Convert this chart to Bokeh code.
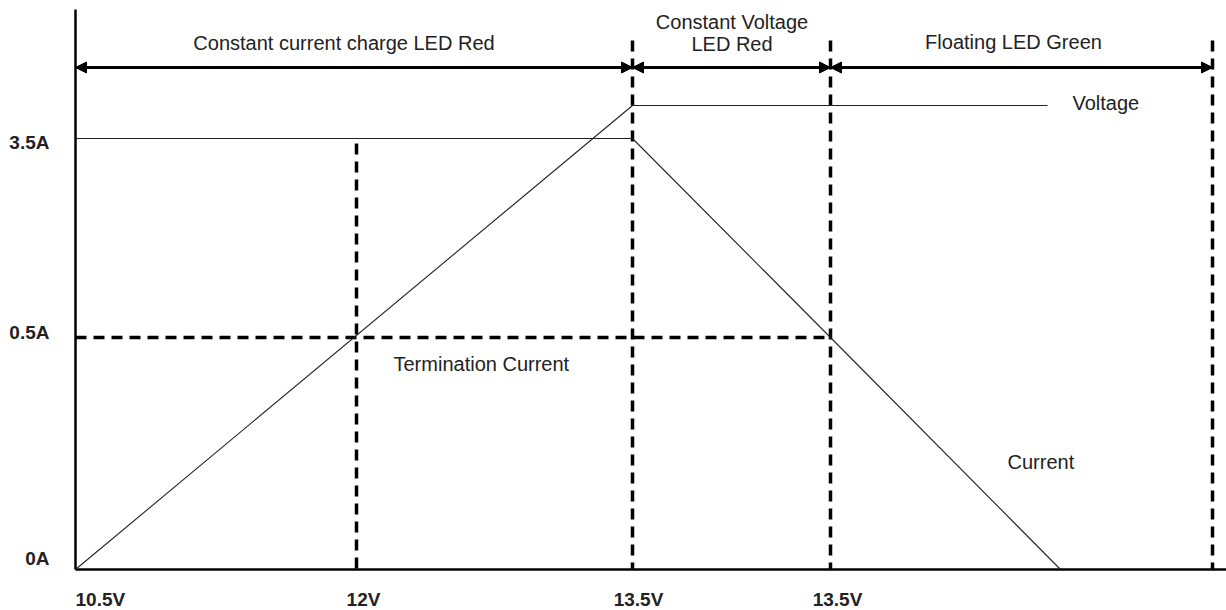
from bokeh.plotting import figure
from bokeh.models import Range1d, ColumnDataSource, Arrow, NormalHead
from bokeh.core.properties import value
from bokeh.embed import file_html
from bokeh.resources import INLINE

# ---- data (schematic units: x = position along charge cycle, y = level) ----
x_ticks = [0, 281, 557, 755]
x_tick_labels = ["10.5V", "12V", "13.5V", "13.5V"]
x_label_pos = [0, 288, 563, 762]
x_label_align = ["left", "center", "center", "center"]

y_ticks = [431, 232, 0]
y_tick_labels = ["3.5A", "0.5A", "0A"]
y_label_pos = [427, 237, 11]

stage_bounds = [0, 557, 755, 1137]
stage_names = ["Constant current charge LED Red", "Constant Voltage", "LED Red", "Floating LED Green"]
stage_name_x = [268.5, 656.5, 656.5, 938]
stage_name_y = [527, 548, 526, 528]

current_x = [0, 557, 755, 985]
current_y = [431, 431, 232, 0]

voltage_x = [0, 557, 972]
voltage_y = [0, 464, 464]

termination_level = 232
axis_top = 560
axis_right = 1151
arrow_level = 502
phase_line_x = [281, 557, 755, 1137]
phase_line_top = [426, 529, 529, 529]

note_texts = ["Voltage", "Termination Current", "Current"]
note_x = [997, 318, 932]
note_y = [467, 206, 108]

FONT = "Liberation Sans"
TXT = "#222222"

p = figure(width=1226, height=610, output_backend="svg", toolbar_location=None,
           x_range=Range1d(-75, 1151), y_range=Range1d(-41, 569),
           x_axis_location=None, y_axis_location=None, min_border=0,
           outline_line_color=None)
p.grid.visible = False

# axes lines
p.segment(x0=[0, 0], y0=[0, 0], x1=[0, axis_right], y1=[axis_top, 0],
          line_color="black", line_width=2.5)

# dashed phase lines
p.segment(x0=phase_line_x, y0=phase_line_top, x1=phase_line_x, y1=[0] * 4,
          line_color="black", line_width=3.5, line_dash="11 7")
# termination current dashed level
p.segment(x0=[0], y0=[termination_level], x1=[stage_bounds[2]], y1=[termination_level],
          line_color="black", line_width=3.5, line_dash="11 7")

# current and voltage curves
p.line(current_x, current_y, line_color="#222222", line_width=1.1)
p.line(voltage_x, voltage_y, line_color="#222222", line_width=1.1)

# stage arrows
arr_src = ColumnDataSource(dict(x0=stage_bounds[:-1], x1=stage_bounds[1:],
                                y=[arrow_level] * 3))
p.add_layout(Arrow(x_start="x0", y_start="y", x_end="x1", y_end="y", source=arr_src,
                   line_width=3, line_color="black",
                   start=NormalHead(size=11, fill_color="black", line_color="black", line_width=1),
                   end=NormalHead(size=11, fill_color="black", line_color="black", line_width=1)))

# stage texts
p.text(x=stage_name_x, y=stage_name_y, text=stage_names, text_font=value(FONT),
       text_font_size="20px", text_align="center", text_baseline="middle", text_color=TXT)

# annotations
p.text(x=note_x, y=note_y, text=note_texts, text_font=value(FONT),
       text_font_size="20px", text_align="left", text_baseline="middle", text_color=TXT)

# tick labels
p.text(x=[-26] * 3, y=y_label_pos, text=y_tick_labels, text_font=value(FONT),
       text_font_size="19px", text_font_style="bold", text_align="right",
       text_baseline="middle", text_color=TXT)
p.text(x=x_label_pos, y=[-30] * 4, text=x_tick_labels, text_font=value(FONT),
       text_font_size="19px", text_font_style="bold", text_align=x_label_align,
       text_baseline="middle", text_color=TXT)

open("out.html", "w").write(file_html(p, INLINE))
